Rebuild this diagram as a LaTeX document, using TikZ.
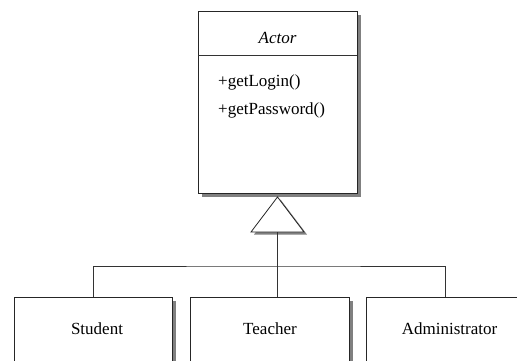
\documentclass[tikz,border=0pt]{standalone}
\usepackage{fontspec}
\setmainfont{Liberation Serif}
\usetikzlibrary{shadows}
\begin{document}
\begin{tikzpicture}[x=1pt,y=-1pt,
  umlbox/.style={draw=black!85,line width=0.9pt,fill=white,rectangle,inner sep=0pt,
    drop shadow={shadow xshift=4pt,shadow yshift=-3.5pt,fill=black!50,opacity=1}},
  conn/.style={draw=black!80,line width=0.8pt},
  lbl/.style={font=\fontsize{17}{20}\selectfont,inner sep=0pt}]
\useasboundingbox (0,0) rectangle (517,360);
\clip (0,0) rectangle (517,360);
% Actor class
\node[umlbox,minimum width=159pt,minimum height=182pt] (actor) at (277.5,102) {};
\draw[conn,line width=0.9pt] (198,55) -- (357,55);
\node[lbl,font=\fontsize{17}{20}\selectfont\itshape] (actorname) at (277.5,38) {Actor};
\node[lbl,anchor=west] (m1) at (218,82) {+getLogin()};
\node[lbl,anchor=west] (m2) at (218,110) {+getPassword()};
% generalization triangle
\coordinate (apex) at (277.5,197);
\coordinate (tb) at (277.5,232);
\filldraw[draw=black!85,fill=white,line width=0.8pt,
  drop shadow={shadow xshift=3pt,shadow yshift=-2.5pt,fill=black!50,opacity=1}]
  (apex) -- (304,232) -- (251,232) -- cycle;
% subclasses
\node[umlbox,minimum width=158pt,minimum height=100pt,anchor=north west] (student) at (14,297) {};
\node[umlbox,minimum width=159pt,minimum height=100pt,anchor=north west] (teacher) at (190,297) {};
\node[umlbox,minimum width=167pt,minimum height=100pt,anchor=north west] (admin) at (366,297) {};
\node[lbl] (studentname) at (97,329) {Student};
\node[lbl] (teachername) at (270,329) {Teacher};
\node[lbl] (adminname) at (449.5,329) {Administrator};
% connectors
\coordinate (j) at (277.5,266);
\coordinate (aa) at (445,297);
\draw[conn] (tb) -- (j);
\draw[conn] (j) -- (j |- teacher.north);
\draw[conn] (student.north) |- (j) -| (aa);
\end{tikzpicture}
\end{document}
